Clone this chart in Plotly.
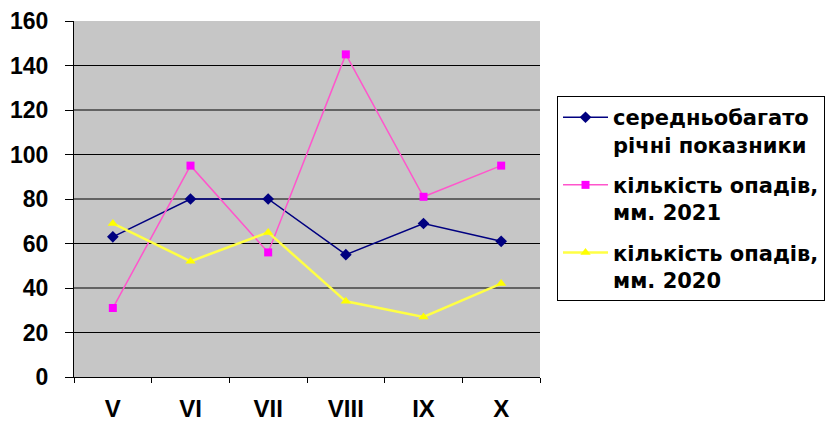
import plotly.graph_objects as go

# Months (Roman numerals) and precipitation series, mm
months = ["V", "VI", "VII", "VIII", "IX", "X"]
long_term_avg = [63, 80, 80, 55, 69, 61]
precip_2021 = [31, 95, 56, 145, 81, 95]
precip_2020 = [69, 52, 65, 34, 27, 42]

y_ticks = [0, 20, 40, 60, 80, 100, 120, 140, 160]

names = [
    "середньобагато<br>річні показники",
    "кількість опадів,<br>мм. 2021",
    "кількість опадів,<br>мм. 2020",
]

fig = go.Figure()

fig.add_trace(go.Scatter(
    x=months, y=long_term_avg, name=names[0], legendgroup="a", mode="lines+markers",
    line=dict(color="#000080", width=1.5),
    marker=dict(symbol="diamond", size=9, color="#000080"),
))
fig.add_trace(go.Scatter(
    x=months, y=precip_2021, name=names[1], legendgroup="b", mode="lines+markers",
    line=dict(color="#ff55cc", width=1.5),
    marker=dict(symbol="square", size=8, color="#ff00ff"),
))
fig.add_trace(go.Scatter(
    x=months, y=precip_2020, name=names[2], legendgroup="c", mode="lines+markers",
    line=dict(color="#ffff44", width=2.5),
    marker=dict(symbol="triangle-up", size=9, color="#ffff00"),
))

# horizontal grid lines, drawn inside the plot area only
for v in y_ticks[1:-1]:
    fig.add_shape(type="line", xref="paper", x0=0, x1=1, yref="y", y0=v, y1=v,
                  line=dict(color="black", width=1), layer="below")

fig.update_layout(
    width=828, height=430,
    margin=dict(l=74, r=288, t=21, b=53, autoexpand=False),
    paper_bgcolor="white",
    plot_bgcolor="#c6c6c6",
    font=dict(family="Liberation Sans, Arial, sans-serif", color="black"),
    showlegend=True,
    legend=dict(
        x=1.0365, xanchor="left", y=0.789, yanchor="top",
        bordercolor="black", borderwidth=1, bgcolor="white",
        font=dict(size=21, family="DejaVu Sans, sans-serif", weight="bold"),
        valign="top", itemwidth=45, tracegroupgap=10, entrywidth=300,
    ),
    xaxis=dict(
        type="category", tickson="boundaries", ticks="outside", ticklen=5,
        tickcolor="black", showline=True, linecolor="black", linewidth=1,
        showgrid=False, zeroline=False,
        tickfont=dict(size=24, weight="bold"), ticklabelstandoff=10,
        range=[-0.5, 5.5],
    ),
    yaxis=dict(
        range=[0, 160], tickvals=y_ticks, ticks="outside", ticklen=8,
        tickcolor="black", showline=True, linecolor="black", linewidth=1,
        showgrid=False, zeroline=False,
        tickfont=dict(size=23, weight="bold"), ticklabelstandoff=12,
    ),
)

fig.write_html("out.html")
